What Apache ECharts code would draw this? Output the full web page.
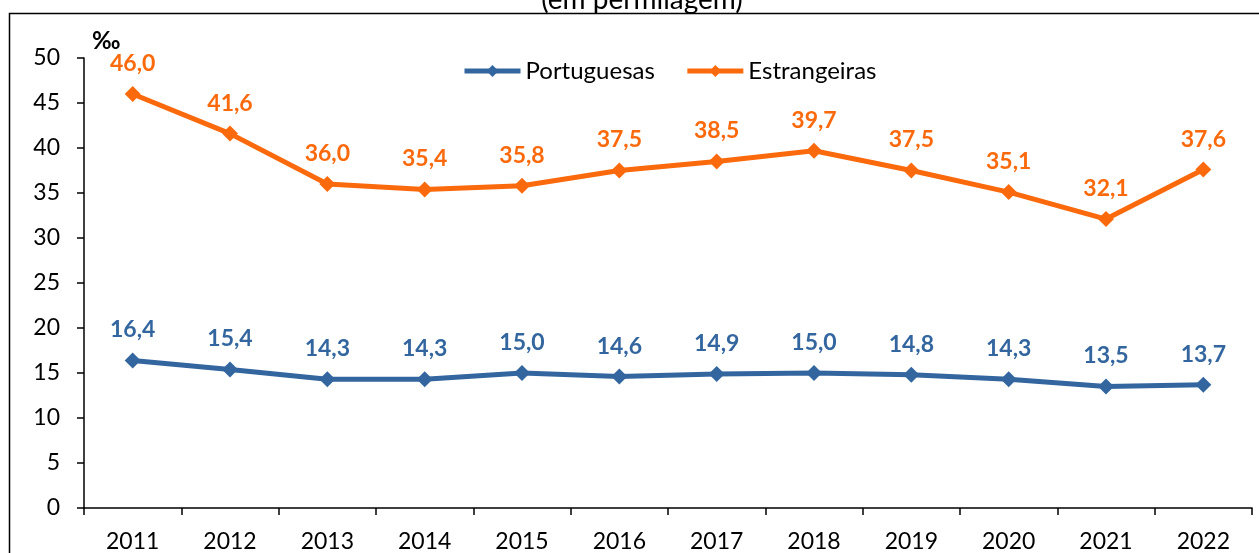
<!DOCTYPE html>
<html>
<head>
<meta charset="utf-8">
<script src="https://cdn.jsdelivr.net/npm/echarts@6/dist/echarts.min.js"></script>
<style>
  html, body { margin: 0; padding: 0; background: #fff; }
  #chart { width: 1259px; height: 553px; }
</style>
</head>
<body>
<div id="chart"></div>
<script>
const years = ["2011", "2012", "2013", "2014", "2015", "2016", "2017", "2018", "2019", "2020", "2021", "2022"];
const portuguesas = [16.4, 15.4, 14.3, 14.3, 15.0, 14.6, 14.9, 15.0, 14.8, 14.3, 13.5, 13.7];
const estrangeiras = [46.0, 41.6, 36.0, 35.4, 35.8, 37.5, 38.5, 39.7, 37.5, 35.1, 32.1, 37.6];

const blue = "#33669F";
const orange = "#FA6A0C";
const font = "Lato";

const chart = echarts.init(document.getElementById("chart"));

function lineSeries(name, data, color) {
  return {
    name: name,
    type: "line",
    data: data,
    symbol: "diamond",
    symbolSize: 16,
    lineStyle: { color: color, width: 5 },
    itemStyle: { color: color },
    label: {
      show: true,
      position: "top",
      distance: 11,
      color: color,
      fontFamily: font,
      fontWeight: "bold",
      fontSize: 23,
      formatter: (p) => p.value.toFixed(1).replace(".", ","),
    },
    animation: false,
  };
}

chart.setOption({
  backgroundColor: "#fff",
  graphic: [
    {
      type: "rect",
      shape: { x: 9.5, y: 13.5, width: 1300, height: 600 },
      style: { fill: null, stroke: "#000", lineWidth: 1.5 },
    },
    {
      type: "text",
      x: 642,
      y: 14,
      style: {
        text: "(em permilagem)",
        fontFamily: font,
        fontSize: 28,
        fill: "#000",
        textAlign: "center",
        textVerticalAlign: "bottom",
      },
    },
    {
      type: "text",
      x: 92,
      y: 41,
      style: {
        text: "‰",
        fontFamily: font,
        fontWeight: "bold",
        fontSize: 24,
        fill: "#000",
        textVerticalAlign: "middle",
      },
    },
  ],
  legend: {
    left: 457,
    top: 54,
    itemWidth: 56,
    itemHeight: 15,
    itemGap: 30,
    lineStyle: { width: 5 },
    textStyle: { fontFamily: font, fontSize: 24, color: "#000" },
    data: ["Portuguesas", "Estrangeiras"],
  },
  grid: { left: 84, right: 7, top: 58, bottom: 44, containLabel: false },
  xAxis: {
    type: "category",
    data: years,
    boundaryGap: true,
    axisLine: { lineStyle: { color: "#000", width: 1.5 } },
    axisTick: { show: true, length: 7, alignWithLabel: false, lineStyle: { color: "#000", width: 1.5 } },
    axisLabel: { margin: 22, color: "#000", fontFamily: font, fontSize: 23 },
  },
  yAxis: {
    type: "value",
    min: 0,
    max: 50,
    interval: 5,
    axisLine: { show: true, lineStyle: { color: "#000", width: 1.5 } },
    axisTick: { show: true, length: 7, lineStyle: { color: "#000", width: 1.5 } },
    splitLine: { show: false },
    axisLabel: { margin: 24, color: "#000", fontFamily: font, fontSize: 23 },
  },
  series: [
    lineSeries("Portuguesas", portuguesas, blue),
    lineSeries("Estrangeiras", estrangeiras, orange),
  ],
});
</script>
</body>
</html>
